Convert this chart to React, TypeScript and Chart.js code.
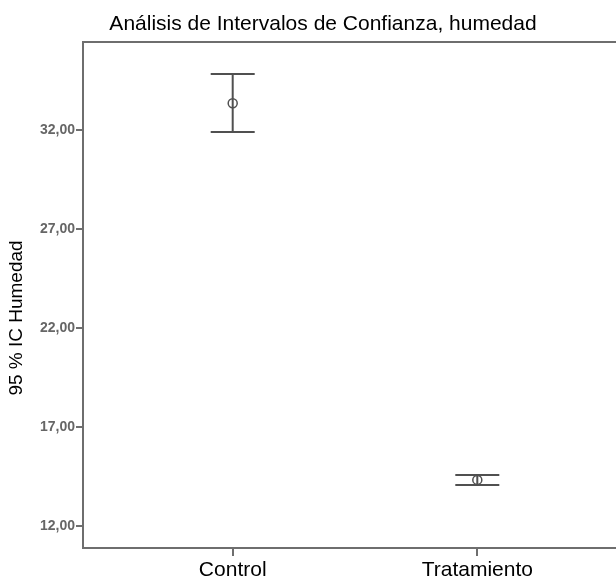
import React, { useEffect, useRef } from "react";
import { Chart, registerables } from "chart.js";

Chart.register(...registerables);

const categories = ["Control", "Tratamiento"];
const means = [33.36, 14.33];
const lowers = [31.9, 14.07];
const uppers = [34.83, 14.58];
const yTicks = [12, 17, 22, 27, 32];
const titleText = "Análisis de Intervalos de Confianza, humedad";
const yTitleText = "95 % IC Humedad";

const AXIS_COLOR = "#6e6e6e";
const MARK_COLOR = "#505050";
const FONT = "'Liberation Sans', Arial, sans-serif";

const errorBarPlugin = {
  id: "errorBars",
  beforeDatasetsDraw(chart: any) {
    const { ctx, scales } = chart;
    const x = scales.x;
    const y = scales.y;
    ctx.save();
    ctx.strokeStyle = MARK_COLOR;
    ctx.lineWidth = 2;
    categories.forEach((_, i) => {
      const px = x.getPixelForValue(i + 1);
      const yl = y.getPixelForValue(lowers[i]);
      const yu = y.getPixelForValue(uppers[i]);
      ctx.beginPath();
      ctx.moveTo(px, yu);
      ctx.lineTo(px, yl);
      ctx.moveTo(px - 22, yu);
      ctx.lineTo(px + 22, yu);
      ctx.moveTo(px - 22, yl);
      ctx.lineTo(px + 22, yl);
      ctx.stroke();
    });
    ctx.restore();
  },
};

const frameTextPlugin = {
  id: "frameText",
  afterDraw(chart: any) {
    const { ctx, chartArea } = chart;
    ctx.save();
    ctx.strokeStyle = AXIS_COLOR;
    ctx.lineWidth = 2;
    ctx.beginPath();
    ctx.moveTo(chartArea.left, chartArea.top);
    ctx.lineTo(chartArea.right + 2, chartArea.top);
    ctx.stroke();

    ctx.fillStyle = "#000";
    ctx.font = "21px " + FONT;
    ctx.textAlign = "center";
    ctx.textBaseline = "alphabetic";
    ctx.fillText(titleText, 323, 30);

    ctx.translate(17, 318);
    ctx.rotate(-Math.PI / 2);
    ctx.font = "19px " + FONT;
    ctx.textBaseline = "middle";
    ctx.fillText(yTitleText, 0, 0);
    ctx.restore();
  },
};

export default function App() {
  const ref = useRef<HTMLCanvasElement | null>(null);

  useEffect(() => {
    if (!ref.current) return;
    const chart = new Chart(ref.current, {
      type: "scatter",
      data: {
        datasets: [
          {
            data: means.map((m, i) => ({ x: i + 1, y: m })),
            pointStyle: "circle",
            pointRadius: 4.5,
            pointBorderWidth: 1.5,
            pointBorderColor: MARK_COLOR,
            pointBackgroundColor: "rgba(0,0,0,0)",
          },
        ],
      },
      options: {
        animation: false,
        responsive: false,
        maintainAspectRatio: false,
        layout: { autoPadding: false, padding: { top: 42, left: 0, right: 0, bottom: 0 } },
        plugins: {
          legend: { display: false },
          title: { display: false },
          tooltip: { enabled: false },
        },
        scales: {
          x: {
            type: "linear",
            min: 0.388,
            max: 2.567,
            afterBuildTicks: (s: any) => {
              s.ticks = categories.map((_, i) => ({ value: i + 1 }));
            },
            afterFit: (s: any) => {
              s.height = 33;
              s.paddingLeft = 0;
              s.paddingRight = 0;
            },
            ticks: {
              autoSkip: false,
              maxRotation: 0,
              padding: 2,
              color: "#000",
              font: { family: FONT, size: 21 },
              callback: (v: any) => categories[Math.round(Number(v)) - 1] ?? "",
            },
            grid: {
              drawOnChartArea: false,
              drawTicks: true,
              tickLength: 8,
              color: AXIS_COLOR,
              lineWidth: 2,
            },
            border: { display: true, color: AXIS_COLOR, width: 2 },
          },
          y: {
            type: "linear",
            min: 10.89,
            max: 36.45,
            afterBuildTicks: (s: any) => {
              s.ticks = yTicks.map((v) => ({ value: v }));
            },
            afterFit: (s: any) => {
              s.width = 83;
              s.paddingTop = 0;
              s.paddingBottom = 0;
            },
            ticks: {
              padding: 1,
              color: "#666666",
              font: { family: FONT, size: 14, weight: "bold" },
              callback: (v: any) => Number(v).toFixed(2).replace(".", ","),
            },
            grid: {
              drawOnChartArea: false,
              drawTicks: true,
              tickLength: 7,
              color: AXIS_COLOR,
              lineWidth: 2,
            },
            border: { display: true, color: AXIS_COLOR, width: 2 },
          },
        },
      },
      plugins: [errorBarPlugin, frameTextPlugin],
    } as any);
    return () => chart.destroy();
  }, []);

  return (
    <div style={{ position: "fixed", left: 0, top: 0, width: 616, height: 581, background: "#fff" }}>
      <canvas ref={ref} width={616} height={581} style={{ display: "block", width: 616, height: 581 }} />
    </div>
  );
}
